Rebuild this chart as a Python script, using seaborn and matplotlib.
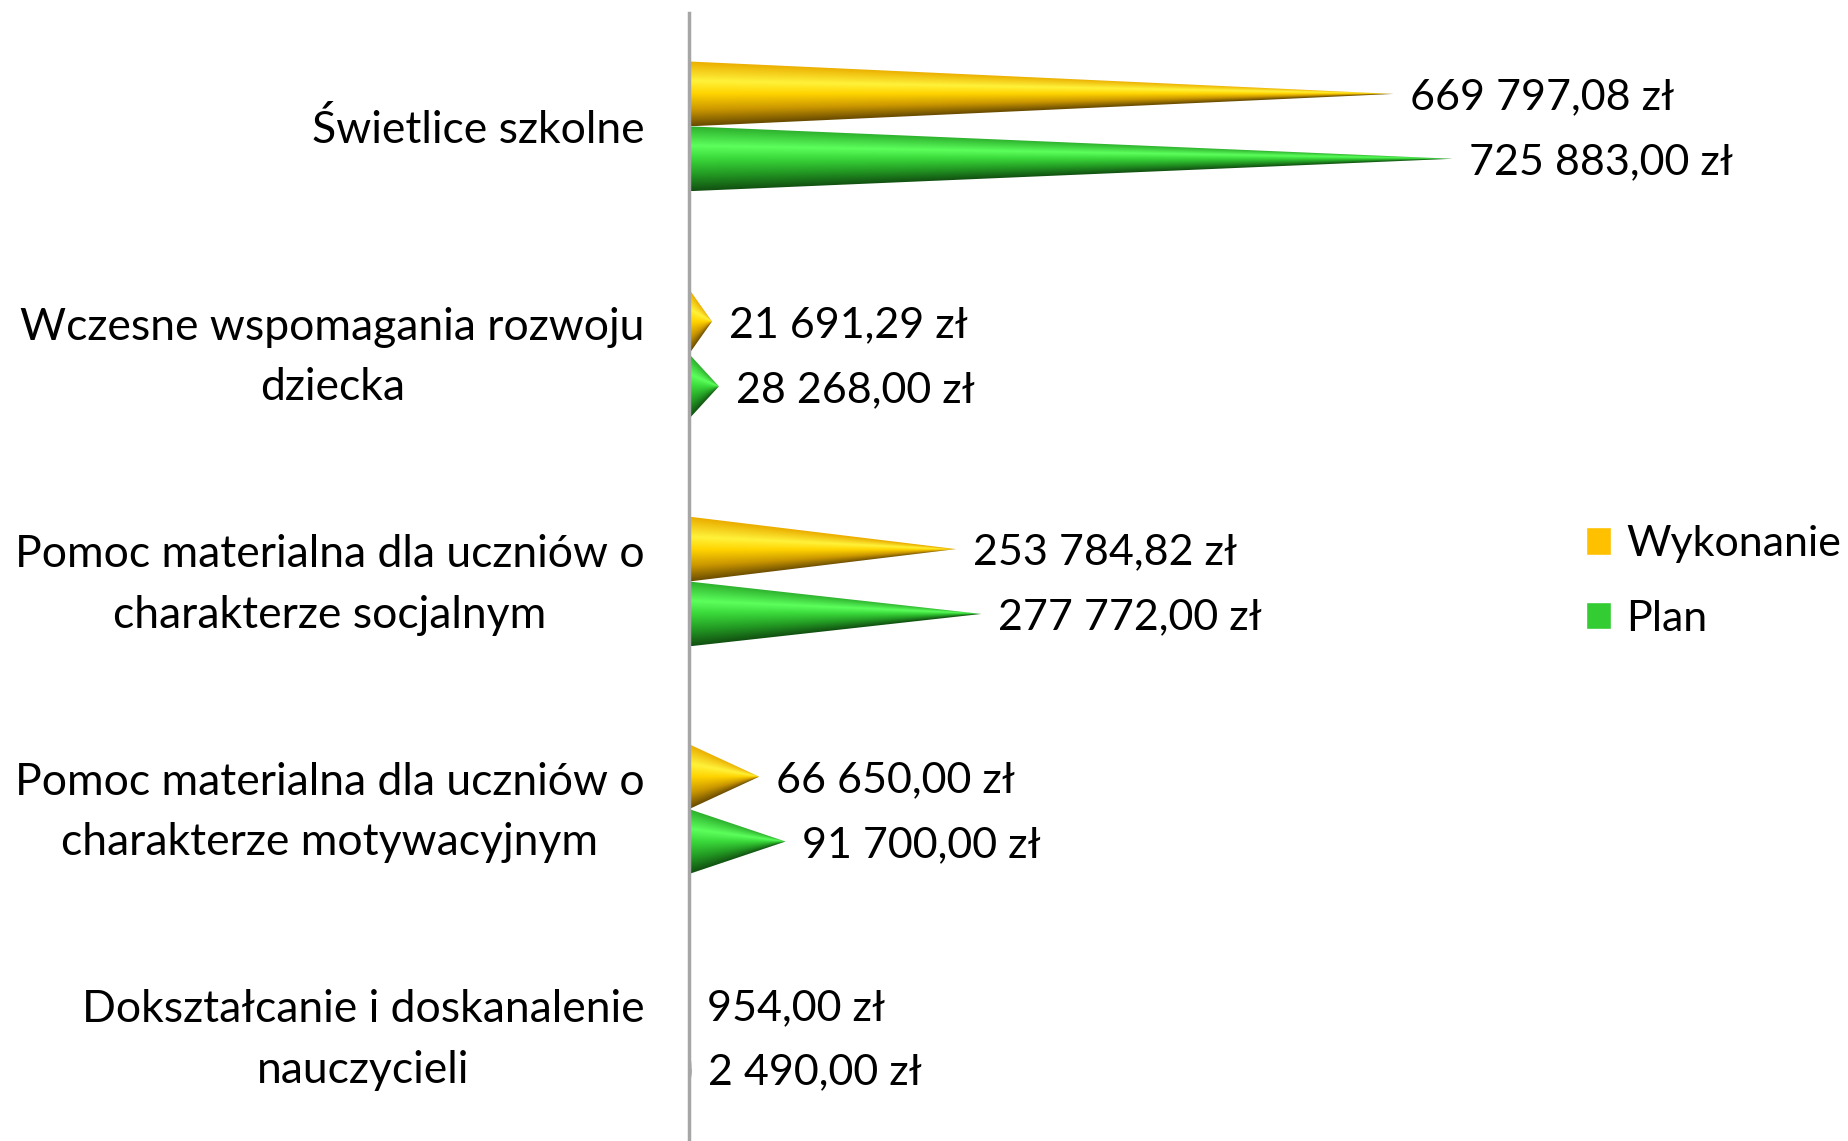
import matplotlib
matplotlib.use("Agg")
import matplotlib.pyplot as plt
import matplotlib.transforms as mtransforms
import seaborn as sns
import numpy as np
import pandas as pd
from matplotlib.patches import Polygon
from matplotlib.colors import LinearSegmentedColormap

kategorie = [
    "Świetlice szkolne",
    "Wczesne wspomagania rozwoju\ndziecka",
    "Pomoc materialna dla uczniów o\ncharakterze socjalnym",
    "Pomoc materialna dla uczniów o\ncharakterze motywacyjnym",
    "Dokształcanie i doskanalenie\nnauczycieli",
]
serie = ["Wykonanie", "Plan"]
wykonanie = [669797.08, 21691.29, 253784.82, 66650.00, 954.00]
plan = [725883.00, 28268.00, 277772.00, 91700.00, 2490.00]
kolory = ["#FFC000", "#33CC33"]

df = pd.DataFrame({
    "kategoria": kategorie * 2,
    "seria": [serie[0]] * len(kategorie) + [serie[1]] * len(kategorie),
    "kwota": wykonanie + plan,
})

sns.set_style("white")
plt.rcParams["font.family"] = ["Lato", "DejaVu Sans"]
plt.rcParams["text.color"] = "black"
fs = 31

# cieniowanie stozkow (gora -> dol)
cmaps = [
    LinearSegmentedColormap.from_list("zolty", [
        (0.0, "#EBAE00"), (0.3, "#FFF23A"), (0.5, "#FFD400"),
        (0.75, "#CC9800"), (1.0, "#6A4C00")]),
    LinearSegmentedColormap.from_list("zielony", [
        (0.0, "#2DB02D"), (0.3, "#5CFF5C"), (0.5, "#3AD83A"),
        (0.75, "#239A23"), (1.0, "#125212")]),
]

fig = plt.figure(figsize=(18.49, 11.41), dpi=100)
ax = fig.add_axes([0.3727, -0.0083, 0.6273, 0.9973])

sns.barplot(data=df, y="kategoria", x="kwota", hue="seria", orient="h",
            palette=kolory, saturation=1, width=0.57, errorbar=None, ax=ax)

xmax = 1102600
ylim = (len(kategorie) - 0.5, -0.5)

for cont, cmap in zip(ax.containers, cmaps):
    for bar in cont:
        x0, y0 = bar.get_x(), bar.get_y()
        w, h = bar.get_width(), bar.get_height()
        ymid = y0 + h / 2
        bar.set_visible(False)
        tri = Polygon([(x0, y0), (x0, y0 + h), (x0 + w, ymid)], closed=True,
                      facecolor="none", edgecolor="none")
        ax.add_patch(tri)
        xs = np.linspace(x0, x0 + w, 500)
        ys = np.linspace(y0, y0 + h, 200)
        X, Y = np.meshgrid(xs, ys)
        half = (h / 2) * np.clip(1 - (X - x0) / w, 1e-6, None)
        T = np.clip((Y - ymid) / half, -1, 1)
        im = ax.imshow(T, cmap=cmap, vmin=-1, vmax=1,
                       extent=(x0, x0 + w, y0 + h, y0), origin="upper",
                       aspect="auto", interpolation="bilinear", zorder=2)
        im.set_clip_path(tri)
        etykieta = f"{w:,.2f}".replace(",", " ").replace(".", ",") + " zł"
        ax.annotate(etykieta, xy=(x0 + w, ymid), xytext=(12, -2.5),
                    textcoords="offset points", va="center", ha="left",
                    fontsize=fs, color="black")

ax.set_xlim(0, xmax)
ax.set_ylim(*ylim)
ax.set_xlabel("")
ax.set_ylabel("")
ax.set_xticks([])
ax.tick_params(axis="y", length=0, pad=32, labelsize=32, labelcolor="black")
przesun = mtransforms.ScaledTranslation(0, -3.5 / 100, fig.dpi_scale_trans)
for t in ax.get_yticklabels():
    t.set_multialignment("center")
    t.set_linespacing(1.6)
    t.set_verticalalignment("center")
    t.set_transform(t.get_transform() + przesun)

for s in ["top", "right", "bottom"]:
    ax.spines[s].set_visible(False)
ax.spines["left"].set_color("#A6A6A6")
ax.spines["left"].set_linewidth(2.5)

sns.move_legend(ax, loc="center left", bbox_to_anchor=(0.8575, 0.4905),
                bbox_transform=fig.transFigure, frameon=False, title=None,
                fontsize=fs, handlelength=0.6, handleheight=0.6,
                handletextpad=0.35, labelspacing=0.85,
                borderpad=0, borderaxespad=0)

fig.savefig("out.png", dpi=100)
